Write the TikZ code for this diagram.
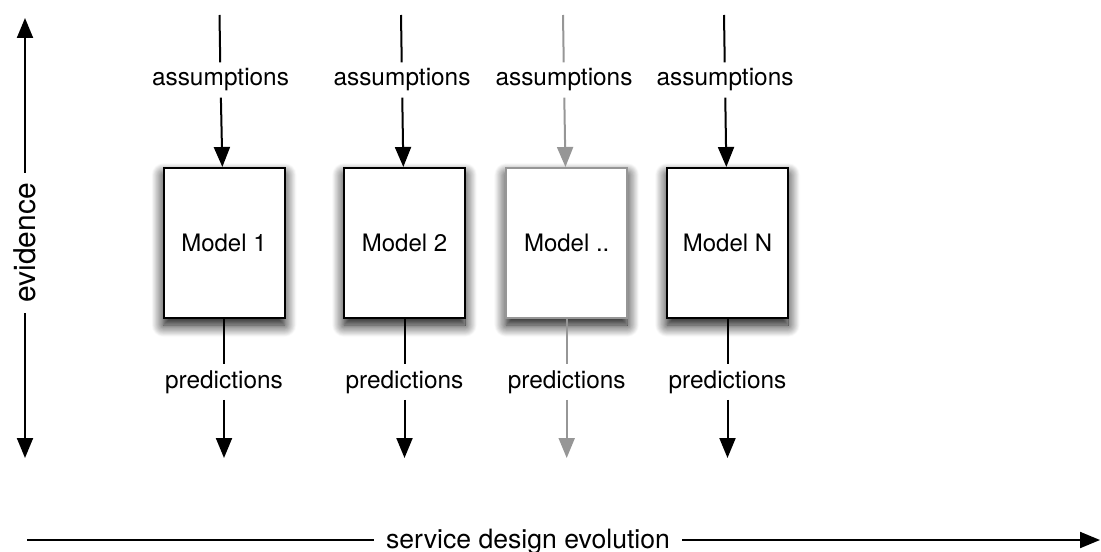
\documentclass[tikz,border=0pt]{standalone}
\usepackage{fontspec}
\setmainfont{TeX Gyre Heros}
\usetikzlibrary{arrows.meta}
\usetikzlibrary{positioning}
\usetikzlibrary{shadows.blur}
\definecolor{greyed}{RGB}{150,150,150}
\tikzset{>={Triangle[length=10pt,width=8pt]}}
\tikzset{
    model/.style={draw, line width=1pt, fill=white, minimum width=60.5pt, minimum height=75pt, inner sep=0pt,
        font=\fontsize{12}{14}\selectfont,
        blur shadow={shadow xshift=0pt, shadow yshift=-3.5pt, shadow blur radius=6pt, shadow blur steps=16, shadow opacity=100}},
    flow/.style={line width=1pt},
    lbl/.style={inner xsep=2pt, inner ysep=3pt, font=\fontsize{12.2}{14}\selectfont},
}

\begin{document}
\begin{tikzpicture}[x=0.5pt,y=-0.5pt]
	\useasboundingbox (0,0) rectangle (1101,551);
	% models
	\node[model] (m1) at (224,243) {Model 1};
	\node[model] (m2) at (404.5,243) {Model 2};
	\node[model, draw=greyed] (m3) at (566.7,243) {Model ..};
	\node[model] (mn) at (727.5,243) {Model N};
	% assumptions going in
	\coordinate (in1) at (219.5,15);
	\coordinate (in2) at (401,15);
	\coordinate (in3) at (563,15);
	\coordinate (inn) at (724,15);
	\node[lbl] (as1) at (220.5,80) {assumptions};
	\node[lbl] (as2) at (402,80) {assumptions};
	\node[lbl] (as3) at (564,80) {assumptions};
	\node[lbl] (asn) at (725,80) {assumptions};
	\draw[flow] (in1) -- (as1);
	\draw[flow,->] (as1) -- (m1);
	\draw[flow] (in2) -- (as2);
	\draw[flow,->] (as2) -- (m2);
	\draw[flow,greyed] (in3) -- (as3);
	\draw[flow,greyed,->] (as3) -- (m3);
	\draw[flow] (inn) -- (asn);
	\draw[flow,->] (asn) -- (mn);
	% predictions coming out
	\node[lbl] (pr1) at (224,382) {predictions};
	\node[lbl] (pr2) at (404.5,382) {predictions};
	\node[lbl] (pr3) at (566.7,382) {predictions};
	\node[lbl] (prn) at (727.5,382) {predictions};
	\coordinate (out1) at (224,458);
	\coordinate (out2) at (404.5,458);
	\coordinate (out3) at (566.7,458);
	\coordinate (outn) at (727.5,458);
	\draw[flow] (m1) -- (pr1);
	\draw[flow,->] (pr1) -- (out1);
	\draw[flow] (m2) -- (pr2);
	\draw[flow,->] (pr2) -- (out2);
	\draw[flow,greyed] (m3) -- (pr3);
	\draw[flow,greyed,->] (pr3) -- (out3);
	\draw[flow] (mn) -- (prn);
	\draw[flow,->] (prn) -- (outn);
	% evidence axis
	\node[lbl, rotate=90, inner xsep=5pt, font=\fontsize{15}{17}\selectfont] (ev) at (25,243) {evidence};
	\coordinate (evtop) at (25,18);
	\coordinate (evbot) at (25,458);
	\draw[flow,->] (ev) -- (evtop);
	\draw[flow,->] (ev) -- (evbot);
	% time axis
	\node[anchor=base, inner xsep=6pt, font=\fontsize{13.3}{15}\selectfont] (evol) at (528,548) {service design evolution};
	\coordinate (tstart) at (27,540);
	\coordinate (tend) at (1100,540);
	\draw[flow] (tstart) -- (tstart -| evol.west);
	\draw[flow,->] (tend -| evol.east) -- (tend);
\end{tikzpicture}
\end{document}
